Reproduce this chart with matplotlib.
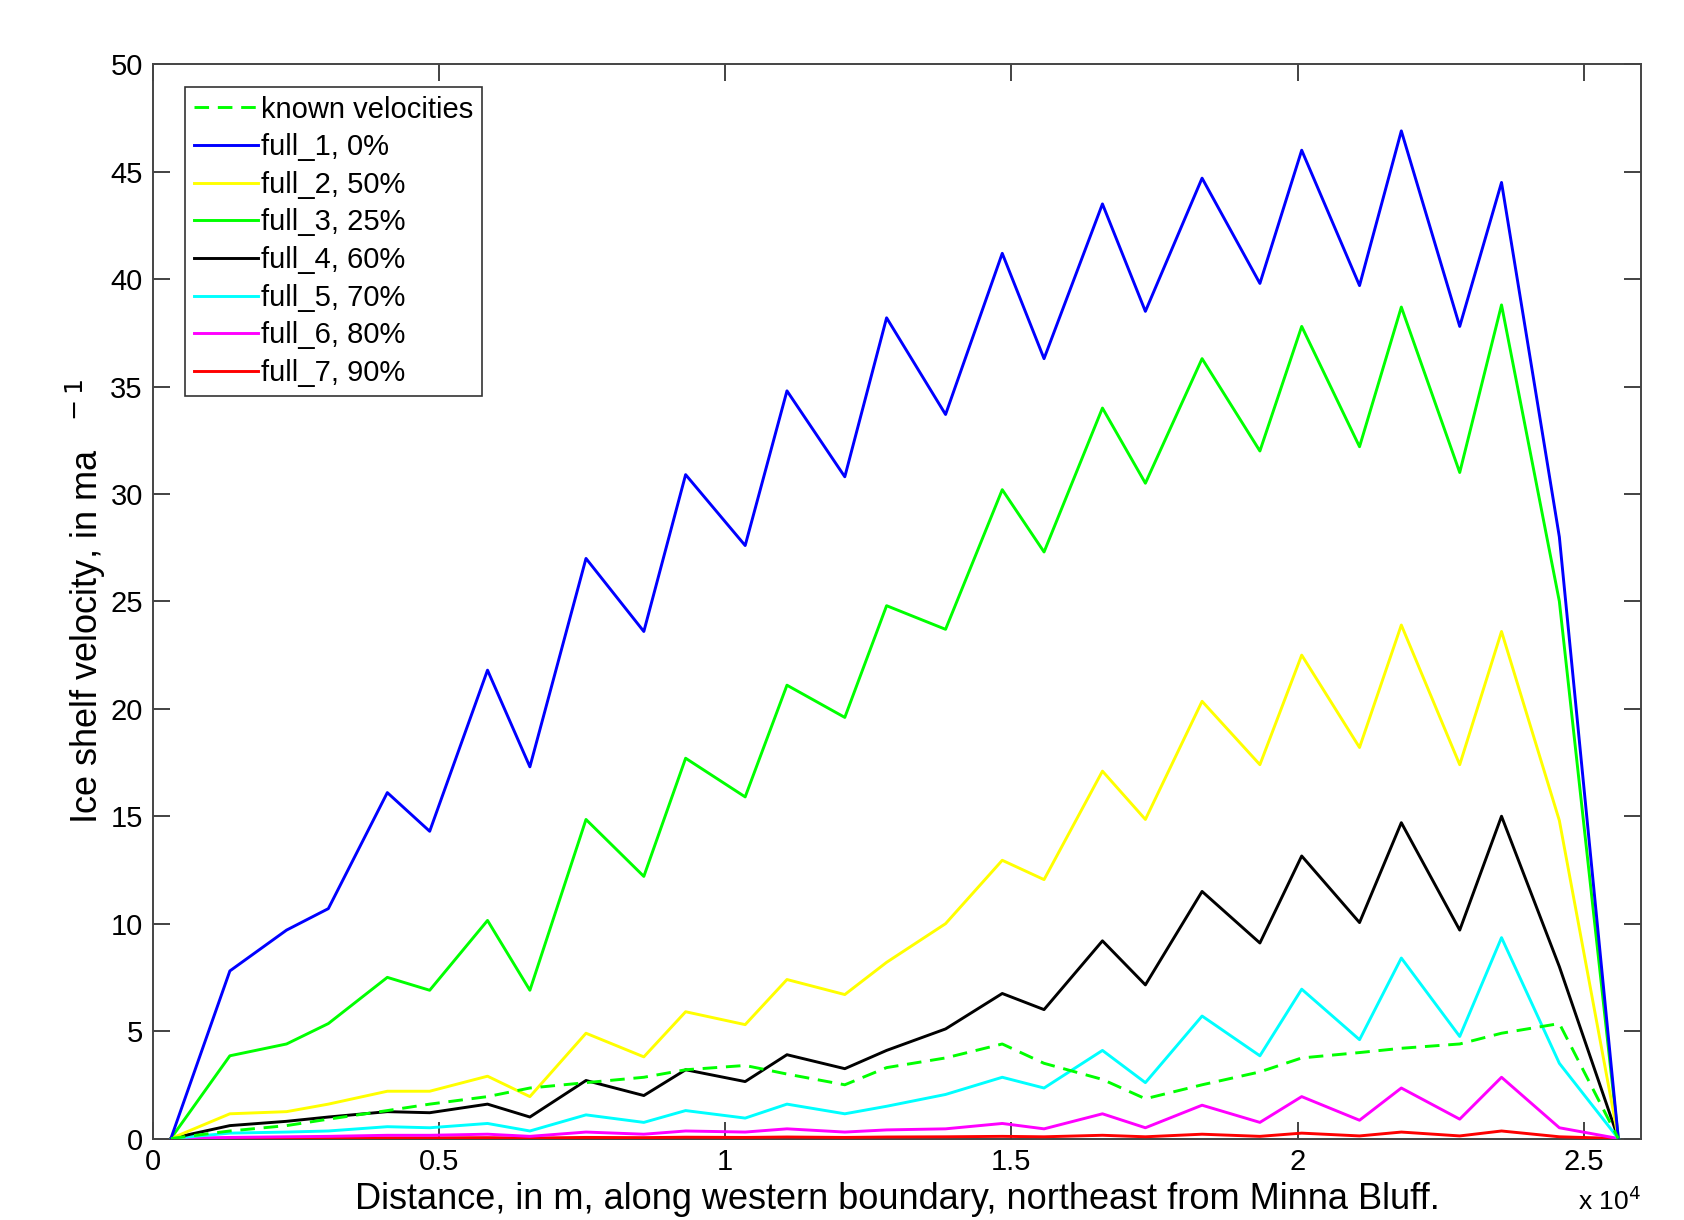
import matplotlib
matplotlib.use("Agg")
import matplotlib.pyplot as plt

plt.rcParams['font.family'] = ['Liberation Sans', 'DejaVu Sans']

# distance along boundary (m)
distance = [320, 1350, 2340, 3070, 4100, 4840, 5850, 6590, 7570, 8580,
            9310, 10350, 11080, 12090, 12820, 13850, 14840, 15570, 16590, 17340,
            18330, 19340, 20070, 21080, 21810, 22830, 23560, 24570, 25600]

known = [0, 0.35, 0.6, 0.9, 1.3, 1.6, 1.95, 2.35, 2.6, 2.85,
         3.2, 3.4, 3.0, 2.5, 3.3, 3.75, 4.4, 3.5, 2.75, 1.85,
         2.5, 3.1, 3.75, 4.0, 4.2, 4.4, 4.9, 5.35, 0]
full_1 = [0, 7.8, 9.7, 10.7, 16.1, 14.3, 21.8, 17.3, 27.0, 23.6,
          30.9, 27.6, 34.8, 30.8, 38.2, 33.7, 41.2, 36.3, 43.5, 38.5,
          44.7, 39.8, 46.0, 39.7, 46.9, 37.8, 44.5, 28.0, 0]
full_2 = [0, 1.15, 1.25, 1.6, 2.2, 2.2, 2.9, 1.95, 4.9, 3.8,
          5.9, 5.3, 7.4, 6.7, 8.2, 10.0, 12.95, 12.05, 17.1, 14.85,
          20.35, 17.4, 22.5, 18.2, 23.9, 17.4, 23.6, 14.8, 0]
full_3 = [0, 3.85, 4.4, 5.35, 7.5, 6.9, 10.15, 6.9, 14.85, 12.2,
          17.7, 15.9, 21.1, 19.6, 24.8, 23.7, 30.2, 27.3, 34.0, 30.5,
          36.3, 32.0, 37.8, 32.2, 38.7, 31.0, 38.8, 25.0, 0]
full_4 = [0, 0.6, 0.8, 1.0, 1.25, 1.2, 1.6, 1.0, 2.7, 2.0,
          3.2, 2.65, 3.9, 3.25, 4.1, 5.1, 6.75, 6.0, 9.2, 7.15,
          11.5, 9.1, 13.15, 10.05, 14.7, 9.7, 15.0, 8.0, 0]
full_5 = [0, 0.25, 0.3, 0.35, 0.55, 0.5, 0.7, 0.35, 1.1, 0.75,
          1.3, 0.95, 1.6, 1.15, 1.5, 2.05, 2.85, 2.35, 4.1, 2.6,
          5.7, 3.85, 6.95, 4.6, 8.4, 4.75, 9.35, 3.5, 0]
full_6 = [0, 0.05, 0.08, 0.1, 0.15, 0.15, 0.2, 0.1, 0.3, 0.2,
          0.35, 0.3, 0.45, 0.3, 0.4, 0.45, 0.7, 0.45, 1.15, 0.5,
          1.55, 0.75, 1.95, 0.85, 2.35, 0.9, 2.85, 0.5, 0]
full_7 = [0, 0.01, 0.01, 0.02, 0.03, 0.03, 0.04, 0.02, 0.05, 0.04,
          0.06, 0.05, 0.07, 0.05, 0.07, 0.08, 0.1, 0.08, 0.15, 0.08,
          0.2, 0.1, 0.25, 0.12, 0.3, 0.12, 0.35, 0.08, 0]

series_labels = ['known velocities', 'full_1, 0%', 'full_2, 50%', 'full_3, 25%',
                 'full_4, 60%', 'full_5, 70%', 'full_6, 80%', 'full_7, 90%']
series_colors = ['#00ff00', '#0000ff', '#ffff00', '#00ff00',
                 '#000000', '#00ffff', '#ff00ff', '#ff0000']

xticks = [0, 5000, 10000, 15000, 20000, 25000]
xticklabels = ['0', '0.5', '1', '1.5', '2', '2.5']
yticks = [0, 5, 10, 15, 20, 25, 30, 35, 40, 45, 50]

fig = plt.figure(figsize=(16.84, 12.2), dpi=100)
ax = fig.add_axes([0.0906, 0.0668, 0.884, 0.8805])

all_series = [known, full_1, full_2, full_3, full_4, full_5, full_6, full_7]
for i, (vals, lab, col) in enumerate(zip(all_series, series_labels, series_colors)):
    if i == 0:
        ax.plot(distance, vals, '--', color=col, lw=2.1, label=lab,
                dashes=(5, 3), zorder=11)
    else:
        ax.plot(distance, vals, '-', color=col, lw=2.1, label=lab, zorder=10 - i)

ax.set_xlim(0, 26000)
ax.set_ylim(0, 50)
ax.set_xticks(xticks)
ax.set_xticklabels(xticklabels)
ax.set_yticks(yticks)
ax.tick_params(direction='in', length=12, width=1.2, labelsize=21, top=True, right=True,
               pad=7, colors='#222222', labelcolor='black')
for s in ax.spines.values():
    s.set_linewidth(1.4)
    s.set_color('#444444')

ax.set_xlabel('Distance, in m, along western boundary, northeast from Minna Bluff.',
              fontsize=26, labelpad=4)
ax.set_ylabel('Ice shelf velocity, in ma$^{\\ \\ \\ -1}$', fontsize=26, labelpad=2)
fig.text(0.9745, 0.004, 'x 10$^{4}$', ha='right', va='bottom', fontsize=19)

leg = ax.legend(loc='upper left', bbox_to_anchor=(0.022, 0.979), fontsize=21,
                frameon=True, fancybox=False, edgecolor='black', borderpad=0.3,
                handlelength=2.2, handletextpad=0.1, labelspacing=0.33, borderaxespad=0)
leg.get_frame().set_linewidth(1.2)

fig.savefig('out.png', dpi=100, facecolor='white')
